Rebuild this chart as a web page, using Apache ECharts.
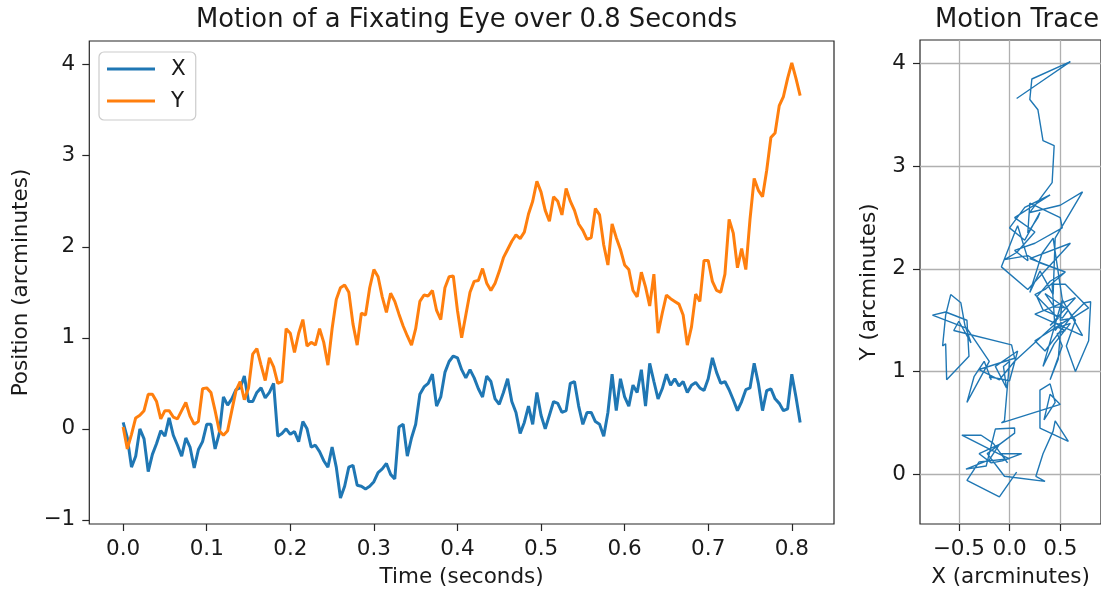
<!DOCTYPE html>
<html>
<head>
<meta charset="utf-8">
<script src="https://cdn.jsdelivr.net/npm/echarts@6/dist/echarts.min.js"></script>
<style>
  html, body { margin: 0; padding: 0; background: #ffffff; }
  #chart { width: 1101px; height: 593px; }
</style>
</head>
<body>
<div id="chart"></div>
<script>
// Eye position samples, one every SAMPLE_STEP seconds (arcminutes)
const SAMPLE_STEP = 0.005;

const posX = [
  0.07, -0.1, -0.42, -0.3, 0.0, -0.11, -0.47, -0.28, -0.16, -0.02,
  -0.08, 0.12, -0.07, -0.18, -0.3, -0.1, -0.2, -0.43, -0.23, -0.14,
  0.05, 0.05, -0.22, -0.05, 0.35, 0.26, 0.33, 0.43, 0.45, 0.58,
  0.3, 0.3, 0.4, 0.45, 0.34, 0.4, 0.5, -0.08, -0.05, 0.0,
  -0.06, -0.03, -0.14, 0.08, 0.0, -0.2, -0.18, -0.25, -0.35, -0.42,
  -0.2, -0.42, -0.76, -0.63, -0.42, -0.4, -0.62, -0.63, -0.66, -0.63,
  -0.58, -0.48, -0.44, -0.38, -0.5, -0.55, 0.02, 0.05, -0.3, -0.1,
  0.05, 0.38, 0.46, 0.5, 0.6, 0.25, 0.35, 0.62, 0.74, 0.8,
  0.78, 0.65, 0.56, 0.65, 0.56, 0.44, 0.35, 0.58, 0.52, 0.33,
  0.27, 0.4, 0.55, 0.3, 0.18, -0.05, 0.07, 0.25, 0.05, 0.4,
  0.15, 0.0, 0.15, 0.3, 0.28, 0.18, 0.2, 0.5, 0.52, 0.25,
  0.05, 0.18, 0.18, 0.08, 0.05, -0.08, 0.18, 0.6, 0.2, 0.55,
  0.35, 0.25, 0.48, 0.4, 0.65, 0.25, 0.72, 0.52, 0.33, 0.44,
  0.6, 0.48, 0.55, 0.47, 0.52, 0.4, 0.48, 0.51, 0.45, 0.42,
  0.55, 0.78, 0.62, 0.5, 0.52, 0.43, 0.32, 0.2, 0.3, 0.43,
  0.45, 0.72, 0.5, 0.2, 0.42, 0.44, 0.33, 0.28, 0.2, 0.22,
  0.6, 0.35, 0.07
];

const posY = [
  0.02, -0.22, -0.06, 0.12, 0.15, 0.2, 0.38, 0.38, 0.3, 0.11,
  0.2, 0.2, 0.13, 0.11, 0.2, 0.29, 0.14, 0.05, 0.08, 0.44,
  0.45, 0.4, 0.2, -0.02, -0.07, -0.02, 0.2, 0.42, 0.52, 0.32,
  0.45, 0.82, 0.88, 0.7, 0.53, 0.78, 0.68, 0.5, 0.52, 1.1,
  1.05, 0.84, 1.05, 1.2, 0.91, 0.95, 0.92, 1.1, 0.95, 0.7,
  1.1, 1.42, 1.55, 1.58, 1.5, 1.15, 0.92, 1.27, 1.25, 1.55,
  1.75, 1.67, 1.45, 1.28, 1.49, 1.4, 1.26, 1.13, 1.02, 0.92,
  1.1, 1.4, 1.47, 1.46, 1.52, 1.3, 1.2, 1.55, 1.67, 1.68,
  1.3, 1.0, 1.25, 1.5, 1.62, 1.63, 1.76, 1.6, 1.52, 1.6,
  1.73, 1.88, 1.97, 2.06, 2.13, 2.09, 2.16, 2.36, 2.5, 2.72,
  2.6, 2.4, 2.28, 2.55, 2.5, 2.35, 2.64, 2.5, 2.4, 2.25,
  2.18, 2.08, 2.1, 2.42, 2.35, 2.02, 1.8, 2.25, 2.1, 1.97,
  1.8, 1.75, 1.52, 1.45, 1.72, 1.56, 1.35, 1.7, 1.05, 1.27,
  1.47, 1.43, 1.4, 1.37, 1.25, 0.92, 1.12, 1.48, 1.4, 1.85,
  1.85, 1.62, 1.52, 1.5, 1.7, 2.3, 2.15, 1.77, 1.98, 1.75,
  2.3, 2.75, 2.62, 2.55, 2.84, 3.2, 3.25, 3.55, 3.65, 3.85,
  4.02, 3.85, 3.66
];

// Tick positions
const timeTicks = [0, 0.1, 0.2, 0.3, 0.4, 0.5, 0.6, 0.7, 0.8];
const positionTicks = [-1, 0, 1, 2, 3, 4];
const traceXTicks = [-0.5, 0, 0.5];
const traceYTicks = [0, 1, 2, 3, 4];

const timeSec = posX.map((_, i) => +(i * SAMPLE_STEP).toFixed(3));
const seriesX = timeSec.map((t, i) => [t, posX[i]]);
const seriesY = timeSec.map((t, i) => [t, posY[i]]);
const tracePoints = posX.map((x, i) => [x, posY[i]]);

const FONT = 'DejaVu Sans';
const INK = '#1a1a1a';
const FRAME = '#262626';
const BLUE = '#1f77b4';
const ORANGE = '#ff7f0e';

function fmt(digits) {
  return v => (v < -1e-9 ? '\u2212' : '') + Math.abs(v).toFixed(digits);
}

function valueAxis(opts) {
  return {
    type: 'value',
    gridIndex: opts.grid,
    min: opts.min,
    max: opts.max,
    name: opts.name,
    nameLocation: 'middle',
    nameGap: opts.nameGap,
    nameTextStyle: { fontFamily: FONT, fontSize: 21.5, color: INK },
    axisLine: { show: false, onZero: false },
    axisTick: {
      show: true, length: 7, inside: false,
      customValues: opts.ticks,
      lineStyle: { color: FRAME, width: 1.2 }
    },
    axisLabel: {
      customValues: opts.ticks,
      margin: opts.labelMargin,
      fontFamily: FONT, fontSize: 21.5, color: INK,
      formatter: fmt(opts.digits),
      showMinLabel: true, showMaxLabel: true
    },
    splitLine: {
      show: !!opts.grid,
      lineStyle: { color: '#b0b0b0', width: 1.3 }
    }
  };
}

const chart = echarts.init(document.getElementById('chart'), null, { renderer: 'canvas', width: 1101, height: 593 });

chart.setOption({
  animation: false,
  backgroundColor: '#ffffff',
  title: [
    {
      text: 'Motion of a Fixating Eye over 0.8 Seconds',
      left: 461.6, top: 2, textAlign: 'center',
      textStyle: { fontFamily: FONT, fontSize: 25.8, fontWeight: 'normal', color: INK }
    },
    {
      text: 'Motion Trace',
      left: 1012, top: 2, textAlign: 'center',
      textStyle: { fontFamily: FONT, fontSize: 25.8, fontWeight: 'normal', color: INK }
    }
  ],
  legend: {
    orient: 'vertical',
    left: 99, top: 52,
    data: ['X', 'Y'],
    icon: 'rect',
    itemWidth: 48, itemHeight: 3,
    itemGap: 10,
    padding: [6, 10, 8, 8],
    borderColor: '#cccccc', borderWidth: 1.2, borderRadius: 5,
    backgroundColor: 'rgba(255,255,255,0.8)',
    textStyle: { fontFamily: FONT, fontSize: 21.5, color: INK, padding: [0, 0, 0, 11], lineHeight: 22 }
  },
  grid: [
    { left: 89.3, top: 41, width: 744.7, height: 484.7, show: true, borderColor: FRAME, borderWidth: 1.2, backgroundColor: 'transparent' },
    { left: 920, top: 40, width: 184, height: 486, show: true, borderColor: FRAME, borderWidth: 1.2, backgroundColor: 'transparent' }
  ],
  xAxis: [
    valueAxis({ grid: 0, min: -0.0405, max: 0.8505, ticks: timeTicks, digits: 1, name: 'Time (seconds)', nameGap: 42, labelMargin: 14 }),
    valueAxis({ grid: 1, min: -0.883, max: 0.902, ticks: traceXTicks, digits: 1, name: 'X (arcminutes)', nameGap: 42, labelMargin: 14 })
  ],
  yAxis: [
    valueAxis({ grid: 0, min: -1.045, max: 4.26, ticks: positionTicks, digits: 0, name: 'Position (arcminutes)', nameGap: 47, labelMargin: 14 }),
    valueAxis({ grid: 1, min: -0.485, max: 4.23, ticks: traceYTicks, digits: 0, name: 'Y (arcminutes)', nameGap: 40, labelMargin: 14 })
  ],
  series: [
    {
      name: 'X', type: 'line', xAxisIndex: 0, yAxisIndex: 0,
      data: seriesX, showSymbol: false, symbol: 'none',
      lineStyle: { color: BLUE, width: 3 }, itemStyle: { color: BLUE },
      z: 2
    },
    {
      name: 'Y', type: 'line', xAxisIndex: 0, yAxisIndex: 0,
      data: seriesY, showSymbol: false, symbol: 'none',
      lineStyle: { color: ORANGE, width: 3 }, itemStyle: { color: ORANGE },
      z: 3
    },
    {
      name: 'trace', type: 'line', xAxisIndex: 1, yAxisIndex: 1,
      data: tracePoints, showSymbol: false, symbol: 'none',
      lineStyle: { color: BLUE, width: 1.4 }, itemStyle: { color: BLUE },
      clip: true
    }
  ]
});
</script>
</body>
</html>
